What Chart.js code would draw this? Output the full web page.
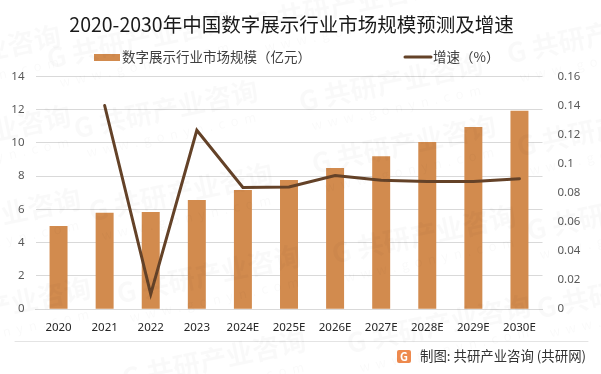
<!DOCTYPE html>
<html>
  <head>
    <title>2020-2030年中国数字展示行业市场规模预测及增速</title>
    <meta charset="UTF-8" />
    <script src="https://cdn.jsdelivr.net/npm/chart.js"></script>
    <style>
      html, body { margin: 0; padding: 0; background: #fff; }
      #wrap { width: 601px; height: 374px; position: relative; }
    </style>
  </head>

  <body>
    <div id="wrap"><canvas id="myChart" width="601" height="374"></canvas></div>

    <script>
      const FONT = '"Noto Sans CJK SC", "Noto Sans", sans-serif';

      const titleText = "2020-2030年中国数字展示行业市场规模预测及增速";
      const categories = ["2020", "2021", "2022", "2023", "2024E", "2025E", "2026E", "2027E", "2028E", "2029E", "2030E"];
      const marketSize = [5.0, 5.8, 5.85, 6.57, 7.17, 7.77, 8.49, 9.2, 10.06, 10.96, 11.93];
      const growthRate = [null, 0.14, 0.0103, 0.123, 0.0836, 0.084, 0.0918, 0.0886, 0.0877, 0.0877, 0.0897];
      const barName = "数字展示行业市场规模（亿元）";
      const lineName = "增速（%）";
      const footerText = "制图: 共研产业咨询 (共研网)";

      // faint watermark spots, centre of each stamp
      const stamps = [
        [-30, 60], [-20, 140], [-10, 223], [0, 312],
        [140, 45], [167, 115], [182, 198], [210, 280], [215, 365],
        [345, 10], [392, 88], [405, 150], [425, 240], [440, 330],
        [600, 40], [610, 133], [620, 217], [630, 295]
      ];

      // watermark goes over everything, it is very light
      const watermark = {
        id: "watermark",
        afterDraw(chart) {
          const c = chart.ctx;
          c.save();
          stamps.forEach(([x, y]) => {
            c.save();
            c.translate(x, y);
            c.rotate(-12 * Math.PI / 180);
            c.textAlign = "center";
            c.textBaseline = "middle";
            c.fillStyle = "rgba(0,0,0,0.024)";
            c.font = "bold 27px " + FONT;
            c.fillText("G 共研产业咨询", 0, -6);
            c.font = "13px " + FONT;
            c.fillText("w  w  w  .  g  o  n  y  n  .  c  o  m", 0, 20);
            c.restore();
          });
          c.restore();
        }
      };

      // legend and footer sit at fixed spots in the original
      const extras = {
        id: "extras",
        afterDraw(chart) {
          const c = chart.ctx;
          c.save();
          c.textBaseline = "middle";
          c.textAlign = "left";
          c.font = "13.5px " + FONT;

          c.fillStyle = chart.data.datasets[0].backgroundColor;
          c.fillRect(94, 54, 26, 7);
          c.fillStyle = "#404040";
          c.fillText(chart.data.datasets[0].label, 122, 57);

          c.strokeStyle = chart.data.datasets[1].borderColor;
          c.lineWidth = 3;
          c.lineCap = "round";
          c.beginPath();
          c.moveTo(405, 57);
          c.lineTo(431, 57);
          c.stroke();
          c.fillText(chart.data.datasets[1].label, 433, 57);

          // separator above the footer
          c.strokeStyle = "#e4e4e4";
          c.lineWidth = 1;
          c.beginPath();
          c.moveTo(15, 341.5);
          c.lineTo(588, 341.5);
          c.stroke();

          // logo
          c.fillStyle = "#ee8a4e";
          c.beginPath();
          c.roundRect(397, 350, 14, 13, 2);
          c.fill();
          c.fillStyle = "#fff";
          c.font = "bold 11px " + FONT;
          c.textAlign = "center";
          c.fillText("G", 404, 356.5);

          c.textAlign = "left";
          c.fillStyle = "#333333";
          c.font = "13.4px " + FONT;
          c.fillText(footerText, 420, 356);
          c.restore();
        }
      };

      new Chart(document.getElementById("myChart").getContext("2d"), {
        data: {
          labels: categories,
          datasets: [
            {
              type: "bar",
              label: barName,
              data: marketSize,
              yAxisID: "y",
              backgroundColor: "#d28b4e",
              barPercentage: 0.39,
              categoryPercentage: 1,
              order: 2
            },
            {
              type: "line",
              label: lineName,
              data: growthRate,
              yAxisID: "y2",
              borderColor: "#644228",
              borderWidth: 3,
              pointRadius: 0,
              tension: 0,
              borderCapStyle: "round",
              order: 1
            }
          ]
        },
        options: {
          responsive: false,
          animation: false,
          layout: { padding: { top: 0, left: 0, right: 18, bottom: 27 } },
          plugins: {
            legend: { display: false },
            tooltip: { enabled: false },
            title: {
              display: true,
              text: titleText,
              color: "#1a1a1a",
              font: { family: FONT, size: 19.5, weight: "normal" },
              padding: { top: 13, bottom: 40 }
            }
          },
          scales: {
            x: {
              grid: { display: false, drawTicks: false },
              border: { color: "#d9d9d9" },
              ticks: {
                color: "#262626",
                padding: 12,
                maxRotation: 0,
                autoSkip: false,
                font: { family: '"Noto Sans", sans-serif', size: 11.5 }
              }
            },
            y: {
              position: "left",
              min: 0,
              max: 14,
              afterFit(axis) { axis.width = 35.5; },
              grid: { color: "#d9d9d9", drawTicks: false },
              border: { display: false },
              ticks: {
                stepSize: 2,
                padding: 11,
                color: "#595959",
                font: { family: '"Noto Sans", sans-serif', size: 11.5 }
              }
            },
            y2: {
              position: "right",
              min: 0,
              max: 0.16,
              afterFit(axis) { axis.width = 40.5; },
              grid: { display: false, drawTicks: false },
              border: { display: false },
              ticks: {
                stepSize: 0.02,
                padding: 15,
                color: "#595959",
                font: { family: '"Noto Sans", sans-serif', size: 11.5 },
                callback: (v) => String(+v.toFixed(2))
              }
            }
          }
        },
        plugins: [extras, watermark]
      });
    </script>
  </body>
</html>
